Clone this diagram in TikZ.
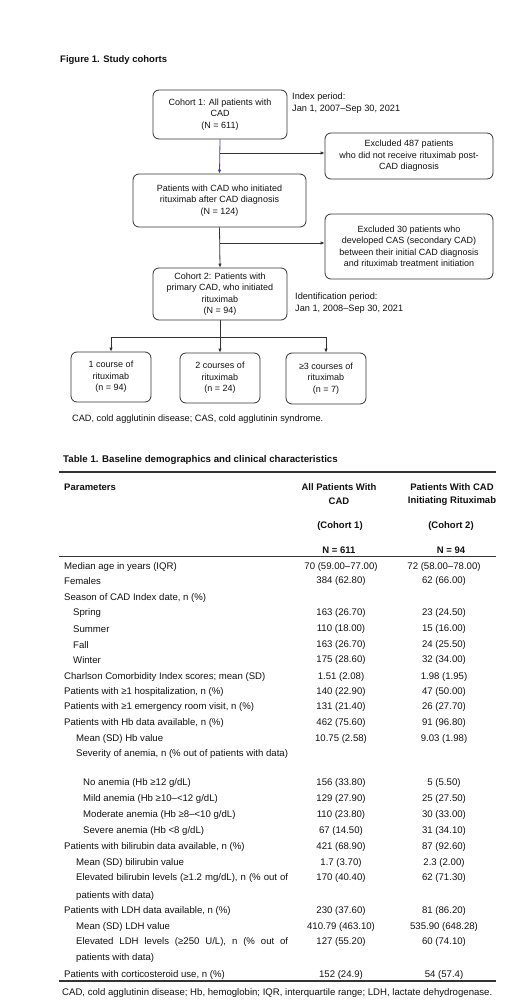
\documentclass[tikz,border=0pt]{standalone}
\usepackage{fontspec}
\setmainfont{Liberation Sans}
\usetikzlibrary{arrows.meta}
\definecolor{lc}{HTML}{333333}
\definecolor{pc}{HTML}{4B3F86}
\definecolor{tc}{HTML}{111111}
\begin{document}
\begin{tikzpicture}[x=1pt,y=-1pt,
  box/.style={draw=lc, line width=0.8pt, rounded corners=6pt, align=center,
    font=\fontsize{9}{11.5}\selectfont, inner sep=1pt, text=tc},
  arr/.style={draw=lc, line width=0.8pt, -{Latex[length=4pt,width=3.6pt]}},
  ln/.style={draw=lc, line width=0.8pt},
  note/.style={anchor=west, inner sep=0pt, align=left, font=\fontsize{9.2}{12}\selectfont, text=tc},
  ttl/.style={anchor=west, inner sep=0pt, font=\fontsize{9.5}{11}\selectfont\bfseries, text=tc},
  tl/.style={anchor=west, inner sep=0pt, font=\fontsize{9.6}{11}\selectfont, text=tc},
  tn/.style={anchor=center, inner sep=0pt, font=\fontsize{9.6}{11}\selectfont, text=tc},
  th/.style={anchor=center, inner sep=0pt, font=\fontsize{9.5}{11}\selectfont\bfseries, text=tc},
  rule/.style={draw=lc}
]
\useasboundingbox (0,0) rectangle (520,1003);

% ---------- Figure ----------
\node[ttl] (ftitle) at (60,60) {Figure 1. Study cohorts};

\node[box, minimum width=134pt, minimum height=49pt] (c1) at (220,114.5)
  {Cohort 1: All patients with\\CAD\\(N = 611)};
\node[note] (idx) at (292,103) {Index period:\\Jan 1, 2007–Sep 30, 2021};

\node[box, minimum width=168pt, minimum height=46pt] (ex1) at (409,156)
  {Excluded 487 patients\\who did not receive rituximab post-\\CAD diagnosis};

\node[box, minimum width=173pt, minimum height=53pt] (c12) at (219.5,200.5)
  {Patients with CAD who initiated\\rituximab after CAD diagnosis\\(N = 124)};

\node[box, minimum width=168pt, minimum height=65pt] (ex2) at (409,246.5)
  {Excluded 30 patients who\\developed CAS (secondary CAD)\\between their initial CAD diagnosis\\and rituximab treatment initiation};

\node[box, minimum width=134pt, minimum height=52pt] (c2) at (220,294)
  {Cohort 2: Patients with\\primary CAD, who initiated\\rituximab\\(N = 94)};
\node[note] (idp) at (295,303) {Identification period:\\Jan 1, 2008–Sep 30, 2021};

\node[box, minimum width=80pt, minimum height=50pt] (k1) at (111,377)
  {1 course of\\rituximab\\(n = 94)};
\node[box, minimum width=80pt, minimum height=50pt] (k2) at (220,378)
  {2 courses of\\rituximab\\(n = 24)};
\node[box, minimum width=80pt, minimum height=51pt] (k3) at (326,378.5)
  {≥3 courses of\\rituximab\\(n = 7)};

\node[note] (fnote) at (72,419) {CAD, cold agglutinin disease; CAS, cold agglutinin syndrome.};

% connectors
\coordinate (j1) at (220,153);
\coordinate (j2) at (220,243);
\coordinate (j3) at (220,337);
\draw[arr, draw=pc] (c1.south) -- (c12.north);
\draw[arr] (j1) -- (j1 -| ex1.west);
\draw[arr] (c12.south) -- (c2.north);
\draw[arr] (j2) -- (j2 -| ex2.west);
\draw[arr] (c2.south) -- (k2.north);
\draw[ln] (j3 -| k1.north) -- (j3 -| k3.north);
\draw[arr] (j3 -| k1.north) -- (k1.north);
\draw[arr] (j3 -| k3.north) -- (k3.north);

% ---------- Table ----------
\node[ttl, font=\fontsize{9.7}{11}\selectfont\bfseries] (ttitle) at (63,460) {Table 1. Baseline demographics and clinical characteristics};
\coordinate (rl) at (59,472);
\coordinate (rr) at (496,472);
\draw[rule, line width=1.3pt] (rl) -- (rr);
\coordinate (ml) at (59,556);
\coordinate (mr) at (496,556);
\draw[rule, line width=1pt] (ml) -- (mr);
\coordinate (bl) at (59,981);
\coordinate (br) at (496,981);
\draw[rule, line width=1.3pt] (bl) -- (br);

\node[th, anchor=west] (hp) at (64,487) {Parameters};
\node[th] (h1a) at (339,487) {All Patients With};
\node[th] (h1b) at (339,501) {CAD};
\node[th] (h1c) at (340,526) {(Cohort 1)};
\node[th] (h1d) at (339,550) {N = 611};
\node[th] (h2a) at (452,487) {Patients With CAD};
\node[th] (h2b) at (452,501) {Initiating Rituximab};
\node[th] (h2c) at (451,526) {(Cohort 2)};
\node[th] (h2d) at (451,550) {N = 94};

\def\ca{341}\def\cb{444}
\node[tl] (r1) at (64,567) {Median age in years (IQR)};
\node[tn] (r1a) at (\ca,567) {70 (59.00–77.00)};
\node[tn] (r1b) at (\cb,567) {72 (58.00–78.00)};
\node[tl] (r2) at (64,581) {Females};
\node[tn] (r2a) at (\ca,581) {384 (62.80)};
\node[tn] (r2b) at (\cb,581) {62 (66.00)};
\node[tl] (r3) at (64,598) {Season of CAD Index date, n (\%)};
\node[tl] (r4) at (73,613) {Spring};
\node[tn] (r4a) at (\ca,613) {163 (26.70)};
\node[tn] (r4b) at (\cb,613) {23 (24.50)};
\node[tl] (r5) at (73,629) {Summer};
\node[tn] (r5a) at (\ca,629) {110 (18.00)};
\node[tn] (r5b) at (\cb,629) {15 (16.00)};
\node[tl] (r6) at (73,645) {Fall};
\node[tn] (r6a) at (\ca,645) {163 (26.70)};
\node[tn] (r6b) at (\cb,645) {24 (25.50)};
\node[tl] (r7) at (73,660) {Winter};
\node[tn] (r7a) at (\ca,660) {175 (28.60)};
\node[tn] (r7b) at (\cb,660) {32 (34.00)};
\node[tl] (r8) at (64,677) {Charlson Comorbidity Index scores; mean (SD)};
\node[tn] (r8a) at (\ca,677) {1.51 (2.08)};
\node[tn] (r8b) at (\cb,677) {1.98 (1.95)};
\node[tl] (r9) at (64,692) {Patients with ≥1 hospitalization, n (\%)};
\node[tn] (r9a) at (\ca,692) {140 (22.90)};
\node[tn] (r9b) at (\cb,692) {47 (50.00)};
\node[tl] (r10) at (64,707) {Patients with ≥1 emergency room visit, n (\%)};
\node[tn] (r10a) at (\ca,707) {131 (21.40)};
\node[tn] (r10b) at (\cb,707) {26 (27.70)};
\node[tl] (r11) at (64,723) {Patients with Hb data available, n (\%)};
\node[tn] (r11a) at (\ca,723) {462 (75.60)};
\node[tn] (r11b) at (\cb,723) {91 (96.80)};
\node[tl] (r12) at (76,739) {Mean (SD) Hb value};
\node[tn] (r12a) at (\ca,739) {10.75 (2.58)};
\node[tn] (r12b) at (\cb,739) {9.03 (1.98)};
\node[tl] (r13) at (76,754) {Severity of anemia, n (\% out of patients with data)};
\node[tl] (r14) at (83,783) {No anemia (Hb ≥12 g/dL)};
\node[tn] (r14a) at (\ca,783) {156 (33.80)};
\node[tn] (r14b) at (\cb,783) {5 (5.50)};
\node[tl] (r15) at (83,799) {Mild anemia (Hb ≥10–<12 g/dL)};
\node[tn] (r15a) at (\ca,799) {129 (27.90)};
\node[tn] (r15b) at (\cb,799) {25 (27.50)};
\node[tl] (r16) at (83,815) {Moderate anemia (Hb ≥8–<10 g/dL)};
\node[tn] (r16a) at (\ca,815) {110 (23.80)};
\node[tn] (r16b) at (\cb,815) {30 (33.00)};
\node[tl] (r17) at (83,831) {Severe anemia (Hb <8 g/dL)};
\node[tn] (r17a) at (\ca,831) {67 (14.50)};
\node[tn] (r17b) at (\cb,831) {31 (34.10)};
\node[tl] (r18) at (64,847) {Patients with bilirubin data available, n (\%)};
\node[tn] (r18a) at (\ca,847) {421 (68.90)};
\node[tn] (r18b) at (\cb,847) {87 (92.60)};
\node[tl] (r19) at (76,863) {Mean (SD) bilirubin value};
\node[tn] (r19a) at (\ca,863) {1.7 (3.70)};
\node[tn] (r19b) at (\cb,863) {2.3 (2.00)};
\node[tl] (r20) at (76,878) {\makebox[212pt][s]{Elevated bilirubin levels (≥1.2 mg/dL), n (\% out of}};
\node[tn] (r20a) at (\ca,878) {170 (40.40)};
\node[tn] (r20b) at (\cb,878) {62 (71.30)};
\node[tl] (r21) at (76,896) {patients with data)};
\node[tl] (r22) at (64,911) {Patients with LDH data available, n (\%)};
\node[tn] (r22a) at (\ca,911) {230 (37.60)};
\node[tn] (r22b) at (\cb,911) {81 (86.20)};
\node[tl] (r23) at (76,927) {Mean (SD) LDH value};
\node[tn] (r23a) at (\ca,927) {410.79 (463.10)};
\node[tn] (r23b) at (\cb,927) {535.90 (648.28)};
\node[tl] (r24) at (76,942) {\makebox[212pt][s]{Elevated LDH levels (≥250 U/L), n (\% out of}};
\node[tn] (r24a) at (\ca,942) {127 (55.20)};
\node[tn] (r24b) at (\cb,942) {60 (74.10)};
\node[tl] (r25) at (76,958) {patients with data)};
\node[tl] (r26) at (64,975) {Patients with corticosteroid use, n (\%)};
\node[tn] (r26a) at (\ca,975) {152 (24.9)};
\node[tn] (r26b) at (\cb,975) {54 (57.4)};

\node[tl] (tnote) at (62,993) {CAD, cold agglutinin disease; Hb, hemoglobin; IQR, interquartile range; LDH, lactate dehydrogenase.};
\end{tikzpicture}
\end{document}
